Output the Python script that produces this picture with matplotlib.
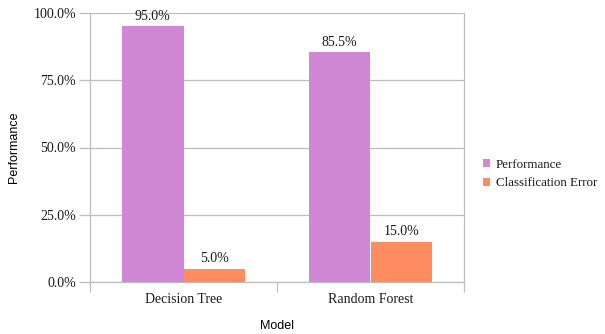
import matplotlib
matplotlib.use("Agg")
import matplotlib.pyplot as plt
import numpy as np
from matplotlib.ticker import FuncFormatter, FixedLocator

models = ["Decision Tree", "Random Forest"]
performance = [95.0, 85.5]
classification_error = [5.0, 15.0]
series_names = ["Performance", "Classification Error"]
colors = ["#D088D4", "#FF8C61"]

serif = "Liberation Serif"
sans = "Liberation Sans"
grid_color = "#BDBDBD"
fs = 10

fig = plt.figure(figsize=(6.05, 3.34), dpi=100)
ax = fig.add_axes([90 / 605, 52 / 334, 374 / 605, 269 / 334])

x = np.arange(len(models))
width = 0.33
bars1 = ax.bar(x - width / 2, performance, width, color=colors[0], label=series_names[0], zorder=3)
bars2 = ax.bar(x + width / 2, classification_error, width, color=colors[1], label=series_names[1], zorder=3)

for bars, vals in ((bars1, performance), (bars2, classification_error)):
    for b, v in zip(bars, vals):
        ax.text(b.get_x() + b.get_width() / 2, v + 1.3, f"{v:.1f}%",
                ha="center", va="bottom", fontsize=fs, family=serif, color="#1a1a1a")

ax.set_xlim(-0.5, len(models) - 0.5)
ax.set_ylim(0, 100)
ax.set_yticks([0, 25, 50, 75, 100])
ax.yaxis.set_major_formatter(FuncFormatter(lambda v, p: f"{v:.1f}%"))
ax.yaxis.grid(True, color=grid_color, linewidth=0.9, zorder=0)

# category labels centred, boundary ticks between categories
ax.xaxis.set_major_locator(FixedLocator([-0.5, 0.5, 1.5]))
ax.xaxis.set_minor_locator(FixedLocator(x))
ax.set_xticklabels([])
ax.set_xticklabels(models, minor=True)
ax.tick_params(axis="x", which="minor", length=0, pad=8)
ax.tick_params(axis="x", which="major", length=7, color=grid_color, width=0.9)
ax.tick_params(axis="y", length=8, color=grid_color, width=0.9, pad=2)

for lbl in ax.get_xticklabels(minor=True) + ax.get_yticklabels():
    lbl.set_fontfamily(serif)
    lbl.set_fontsize(fs)
    lbl.set_color("#1a1a1a")

for side in ["left", "right", "bottom"]:
    ax.spines[side].set_color(grid_color)
    ax.spines[side].set_linewidth(0.9)
ax.spines["top"].set_visible(False)

ax.set_xlabel("Model", fontsize=9, family=sans, labelpad=10)
ax.set_ylabel("Performance", fontsize=9, family=sans, labelpad=10)

leg = fig.legend(loc="center left", bbox_to_anchor=(476 / 605, 1 - 174 / 334),
                 frameon=False, borderpad=0, handlelength=0.6, handleheight=0.6,
                 handletextpad=0.4, labelspacing=0.5, prop={"family": serif, "size": 9.4})
for t in leg.get_texts():
    t.set_color("#1a1a1a")

fig.savefig("out.png", dpi=100)
